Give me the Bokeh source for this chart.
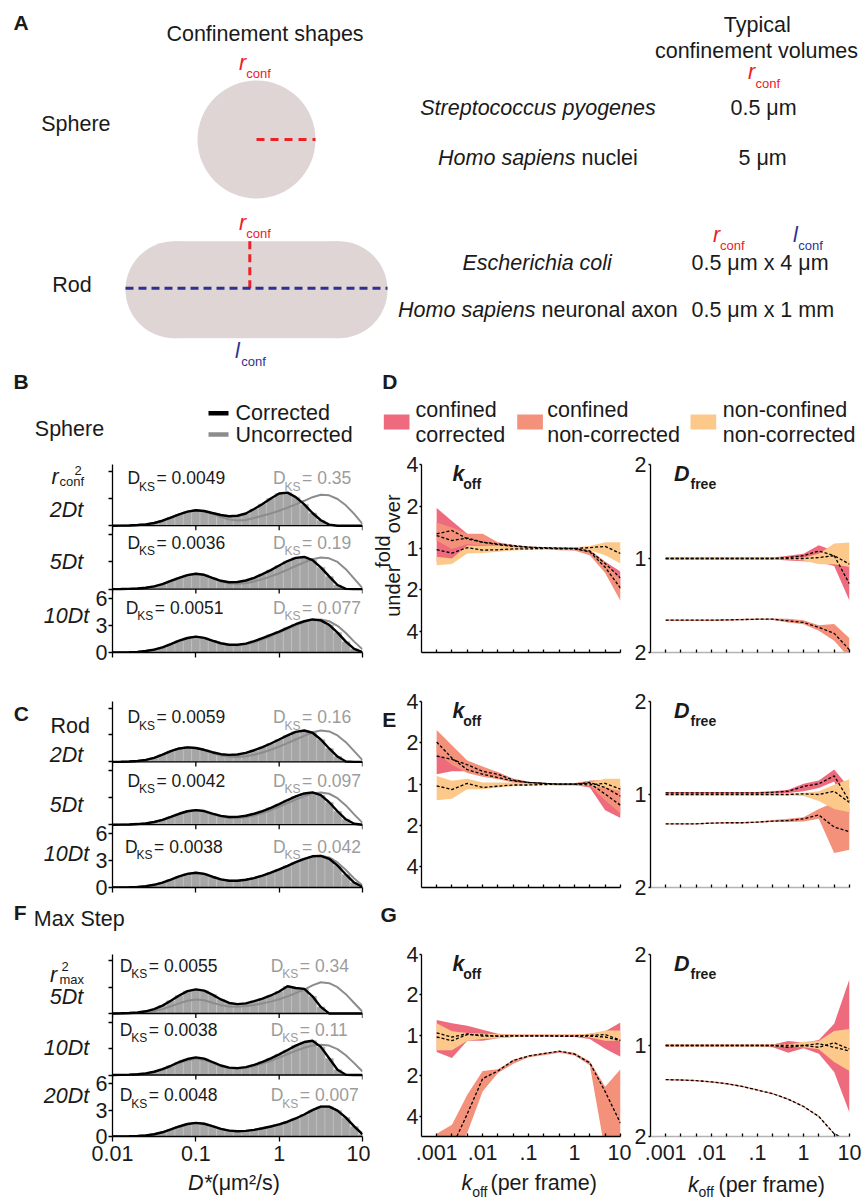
import math
from bokeh.plotting import figure
from bokeh.layouts import column, row
from bokeh.models import Range1d, FixedTicker, Span
from bokeh.core.properties import value
from bokeh.embed import file_html
from bokeh.resources import INLINE

# ============================ DATA ============================
# Panels B, C, F : D* histograms (density), corrected (black) and uncorrected (grey)
D_STAR = [0.01, 0.0126, 0.0158, 0.02, 0.0251, 0.0316, 0.0398, 0.0501, 0.0631, 0.0794,
          0.1, 0.126, 0.158, 0.2, 0.251, 0.316, 0.398, 0.501, 0.631, 0.794,
          1.0, 1.26, 1.58, 2.0, 2.51, 3.16, 3.98, 5.01, 6.31, 7.94,
          10.0]
HIST_X_TICKS = [0.01, 0.1, 1, 10]
HIST_X_LABELS = ["0.01", "0.1", "1", "10"]
HIST_Y_TICKS = [0, 3, 6]

B_2DT_CORR = [0.00, 0.01, 0.03, 0.07, 0.15, 0.30, 0.55, 0.90, 1.25, 1.55,
              1.70, 1.62, 1.40, 1.18, 1.05, 1.10, 1.35, 1.85, 2.40, 3.00,
              3.55, 3.65, 3.15, 2.35, 1.40, 0.60, 0.12, 0.00, 0.00, 0.00,
              0.00]
B_2DT_UNC = [0.00, 0.01, 0.03, 0.07, 0.15, 0.30, 0.55, 0.90, 1.25, 1.55,
             1.70, 1.58, 1.30, 0.95, 0.68, 0.58, 0.64, 0.85, 1.10, 1.35,
             1.65, 2.00, 2.35, 2.75, 3.15, 3.42, 3.35, 2.95, 2.25, 1.30,
             0.20]
B_5DT_CORR = [0.00, 0.01, 0.03, 0.07, 0.15, 0.30, 0.55, 0.90, 1.25, 1.55,
              1.70, 1.58, 1.25, 0.92, 0.76, 0.78, 0.95, 1.25, 1.65, 2.10,
              2.60, 3.10, 3.45, 3.55, 3.20, 2.40, 1.40, 0.45, 0.02, 0.00,
              0.00]
B_5DT_UNC = [0.00, 0.01, 0.03, 0.07, 0.15, 0.30, 0.55, 0.90, 1.25, 1.55,
             1.70, 1.55, 1.20, 0.85, 0.65, 0.58, 0.65, 0.85, 1.10, 1.40,
             1.75, 2.15, 2.55, 2.95, 3.30, 3.48, 3.40, 3.00, 2.20, 1.15,
             0.10]
B_10DT_CORR = [0.00, 0.01, 0.03, 0.07, 0.16, 0.32, 0.57, 0.92, 1.30, 1.60,
               1.75, 1.62, 1.32, 1.02, 0.86, 0.85, 0.98, 1.25, 1.60, 1.95,
               2.30, 2.72, 3.12, 3.45, 3.65, 3.55, 3.05, 2.20, 1.20, 0.40,
               0.03]
B_10DT_UNC = [0.00, 0.01, 0.03, 0.07, 0.16, 0.32, 0.57, 0.92, 1.30, 1.60,
              1.75, 1.60, 1.28, 0.98, 0.82, 0.80, 0.90, 1.12, 1.45, 1.80,
              2.20, 2.60, 3.00, 3.35, 3.60, 3.65, 3.45, 2.95, 2.15, 1.20,
              0.35]
C_2DT_CORR = [0.00, 0.01, 0.04, 0.10, 0.22, 0.45, 0.80, 1.20, 1.50, 1.62,
              1.55, 1.35, 1.08, 0.86, 0.78, 0.82, 1.00, 1.30, 1.65, 2.05,
              2.50, 2.95, 3.35, 3.50, 3.25, 2.50, 1.50, 0.60, 0.05, 0.00,
              0.00]
C_2DT_UNC = [0.00, 0.01, 0.04, 0.10, 0.22, 0.45, 0.80, 1.20, 1.50, 1.62,
             1.55, 1.30, 1.00, 0.72, 0.58, 0.55, 0.62, 0.80, 1.05, 1.35,
             1.70, 2.10, 2.50, 2.90, 3.30, 3.50, 3.40, 2.95, 2.20, 1.20,
             0.20]
C_5DT_CORR = [0.00, 0.01, 0.03, 0.07, 0.15, 0.30, 0.53, 0.87, 1.22, 1.50,
              1.63, 1.52, 1.24, 0.98, 0.86, 0.87, 1.00, 1.22, 1.52, 1.88,
              2.30, 2.75, 3.15, 3.48, 3.60, 3.30, 2.50, 1.50, 0.60, 0.10,
              0.00]
C_5DT_UNC = [0.00, 0.01, 0.03, 0.07, 0.15, 0.30, 0.53, 0.87, 1.22, 1.50,
             1.63, 1.50, 1.18, 0.90, 0.75, 0.72, 0.82, 1.02, 1.30, 1.62,
             2.00, 2.40, 2.80, 3.18, 3.48, 3.60, 3.45, 2.95, 2.15, 1.15,
             0.20]
C_10DT_CORR = [0.00, 0.01, 0.03, 0.07, 0.15, 0.30, 0.54, 0.88, 1.24, 1.52,
               1.65, 1.52, 1.20, 0.90, 0.75, 0.75, 0.86, 1.05, 1.32, 1.65,
               2.02, 2.42, 2.82, 3.20, 3.48, 3.52, 3.20, 2.45, 1.45, 0.55,
               0.05]
C_10DT_UNC = [0.00, 0.01, 0.03, 0.07, 0.15, 0.30, 0.54, 0.88, 1.24, 1.52,
              1.65, 1.52, 1.20, 0.90, 0.75, 0.75, 0.86, 1.05, 1.32, 1.63,
              2.00, 2.38, 2.78, 3.15, 3.45, 3.55, 3.35, 2.80, 1.95, 1.00,
              0.25]
F_5DT_CORR = [0.00, 0.02, 0.05, 0.12, 0.25, 0.50, 0.90, 1.45, 2.05, 2.55,
              2.75, 2.60, 2.15, 1.60, 1.20, 1.07, 1.15, 1.40, 1.70, 2.05,
              2.50, 3.10, 2.90, 2.80, 1.95, 0.75, 0.00, 0.00, 0.00, 0.00,
              0.00]
F_5DT_UNC = [0.00, 0.01, 0.03, 0.07, 0.15, 0.28, 0.50, 0.82, 1.15, 1.45,
             1.60, 1.50, 1.22, 0.95, 0.80, 0.77, 0.85, 0.98, 1.15, 1.35,
             1.62, 1.95, 2.32, 2.72, 3.20, 3.55, 3.45, 3.00, 2.20, 1.20,
             0.20]
F_10DT_CORR = [0.00, 0.01, 0.04, 0.09, 0.19, 0.37, 0.66, 1.05, 1.48, 1.82,
               2.00, 1.86, 1.48, 1.08, 0.84, 0.78, 0.90, 1.15, 1.50, 1.90,
               2.35, 2.85, 3.35, 3.75, 3.90, 3.20, 1.90, 0.60, 0.03, 0.00,
               0.00]
F_10DT_UNC = [0.00, 0.01, 0.04, 0.09, 0.18, 0.35, 0.62, 0.98, 1.38, 1.68,
              1.85, 1.72, 1.38, 1.00, 0.78, 0.72, 0.82, 1.02, 1.30, 1.62,
              1.98, 2.38, 2.75, 3.10, 3.35, 3.45, 3.35, 2.95, 2.25, 1.35,
              0.40]
F_20DT_CORR = [0.00, 0.01, 0.03, 0.06, 0.13, 0.26, 0.48, 0.80, 1.14, 1.42,
               1.55, 1.45, 1.17, 0.87, 0.67, 0.60, 0.64, 0.76, 0.94, 1.14,
               1.38, 1.68, 2.05, 2.50, 3.00, 3.40, 3.40, 2.95, 2.15, 1.15,
               0.25]
F_20DT_UNC = [0.00, 0.01, 0.03, 0.06, 0.13, 0.26, 0.48, 0.80, 1.14, 1.42,
              1.55, 1.45, 1.17, 0.87, 0.67, 0.60, 0.64, 0.76, 0.94, 1.14,
              1.38, 1.68, 2.05, 2.52, 3.02, 3.42, 3.42, 2.98, 2.18, 1.18,
              0.27]

B_ROWS = ["2Dt", "5Dt", "10Dt"]
C_ROWS = ["2Dt", "5Dt", "10Dt"]
F_ROWS = ["5Dt", "10Dt", "20Dt"]
B_DKS_CORR = ["0.0049", "0.0036", "0.0051"]
B_DKS_UNC = ["0.35", "0.19", "0.077"]
C_DKS_CORR = ["0.0059", "0.0042", "0.0038"]
C_DKS_UNC = ["0.16", "0.097", "0.042"]
F_DKS_CORR = ["0.0055", "0.0038", "0.0048"]
F_DKS_UNC = ["0.34", "0.11", "0.007"]

# Panels D, E, G : log2 fold over(+)/under(-) estimation vs k_off
KOFF = [0.001, 0.00215, 0.00464, 0.01, 0.0215, 0.0464, 0.1, 0.215, 0.464, 1, 2.15, 4.64, 10]
KOFF_DECADES = [0.001, 0.01, 0.1, 1, 10]
KOFF_DECADE_LABELS = [".001", ".01", ".1", "1", "10"]
KOFF_FOLD_TICKS = [-2, -1, 0, 1, 2]
KOFF_FOLD_LABELS = ["4", "2", "1", "2", "4"]
DFREE_FOLD_TICKS = [-1, 0, 1]
DFREE_FOLD_LABELS = ["2", "1", "2"]

# sphere (D)
D_KOFF_CC_HI = [0.96, 0.65, 0.34, 0.18, 0.09, 0.04, 0.02, 0.02, 0.01, 0.00, -0.05, -0.33, -0.56]
D_KOFF_CC_MED = [0.34, 0.42, 0.22, 0.14, 0.10, 0.06, 0.02, 0.01, 0.00, -0.01, -0.07, -0.37, -0.72]
D_KOFF_CC_LO = [-0.33, -0.35, -0.09, -0.05, -0.04, -0.02, -0.02, -0.02, -0.04, -0.05, -0.15, -0.53, -1.00]
D_KOFF_CN_HI = [0.61, 0.49, 0.34, 0.34, 0.14, 0.08, 0.04, 0.02, 0.02, 0.01, -0.04, -0.33, -0.76]
D_KOFF_CN_MED = [0.30, 0.18, 0.24, 0.14, 0.08, 0.04, 0.02, 0.00, -0.02, -0.02, -0.09, -0.46, -0.96]
D_KOFF_CN_LO = [0.18, -0.02, 0.10, 0.06, 0.01, -0.02, -0.02, -0.03, -0.05, -0.06, -0.17, -0.60, -1.27]
D_KOFF_NN_HI = [-0.21, -0.25, 0.06, 0.05, 0.05, 0.04, 0.02, 0.02, 0.02, 0.02, 0.05, 0.14, 0.14]
D_KOFF_NN_MED = [-0.04, -0.12, 0.01, -0.05, -0.04, -0.02, -0.02, -0.01, -0.01, -0.01, 0.01, 0.04, -0.13]
D_KOFF_NN_LO = [-0.41, -0.38, -0.13, -0.12, -0.09, -0.06, -0.04, -0.03, -0.03, -0.03, -0.05, -0.17, -0.37]

D_DFREE_CC_HI = [0.01, 0.01, 0.01, 0.01, 0.01, 0.01, 0.01, 0.01, 0.03, 0.05, 0.14, 0.08, -0.02]
D_DFREE_CC_MED = [0.0, 0.0, 0.0, 0.0, 0.0, 0.0, 0.0, 0.0, 0.01, 0.03, 0.08, 0.03, -0.27]
D_DFREE_CC_LO = [-0.01, -0.01, -0.01, -0.01, -0.01, -0.01, -0.01, -0.01, -0.02, -0.03, -0.04, -0.08, -0.45]
D_DFREE_CN_HI = [-0.648, -0.648, -0.648, -0.648, -0.645, -0.642, -0.638, -0.638, -0.640, -0.656, -0.709, -0.698, -0.849]
D_DFREE_CN_MED = [-0.656, -0.656, -0.656, -0.656, -0.653, -0.650, -0.646, -0.646, -0.663, -0.680, -0.733, -0.796, -0.972]
D_DFREE_CN_LO = [-0.664, -0.664, -0.664, -0.664, -0.661, -0.658, -0.654, -0.654, -0.680, -0.700, -0.768, -0.874, -1.060]
D_DFREE_NN_HI = [0.01, 0.01, 0.01, 0.01, 0.01, 0.01, 0.01, 0.01, 0.01, 0.01, 0.05, 0.16, 0.17]
D_DFREE_NN_MED = [0.0, 0.0, 0.0, 0.0, 0.0, 0.0, 0.0, 0.0, 0.0, 0.0, 0.01, 0.03, -0.06]
D_DFREE_NN_LO = [-0.01, -0.01, -0.01, -0.01, -0.01, -0.01, -0.01, -0.01, -0.01, -0.02, -0.06, -0.06, -0.09]

# rod (E)
E_KOFF_CC_HI = [0.98, 0.92, 0.55, 0.39, 0.29, 0.13, 0.06, 0.03, 0.02, 0.02, 0.08, 0.08, -0.04]
E_KOFF_CC_MED = [0.68, 0.60, 0.47, 0.31, 0.24, 0.10, 0.04, 0.02, 0.00, 0.00, 0.04, -0.08, -0.29]
E_KOFF_CC_LO = [0.24, 0.31, 0.31, 0.21, 0.16, 0.04, 0.00, -0.02, -0.02, -0.02, -0.08, -0.63, -0.82]
E_KOFF_CN_HI = [1.31, 0.94, 0.57, 0.43, 0.29, 0.13, 0.06, 0.03, 0.02, 0.02, 0.08, 0.10, -0.08]
E_KOFF_CN_MED = [1.02, 0.63, 0.35, 0.24, 0.16, 0.08, 0.04, 0.02, 0.00, 0.00, 0.02, -0.24, -0.51]
E_KOFF_CN_LO = [0.75, 0.47, 0.27, 0.18, 0.12, 0.04, -0.01, -0.02, -0.03, -0.03, -0.04, -0.39, -0.71]
E_KOFF_NN_HI = [0.20, 0.08, 0.13, 0.04, 0.04, 0.04, 0.02, 0.02, 0.02, 0.02, 0.04, 0.13, 0.13]
E_KOFF_NN_MED = [-0.04, -0.13, 0.02, -0.08, -0.05, -0.02, -0.02, -0.01, 0.00, 0.00, -0.02, 0.02, -0.12]
E_KOFF_NN_LO = [-0.39, -0.35, -0.12, -0.12, -0.08, -0.05, -0.04, -0.02, -0.02, -0.02, -0.04, -0.08, -0.16]

E_DFREE_CC_HI = [0.028, 0.028, 0.028, 0.028, 0.028, 0.028, 0.028, 0.035, 0.052, 0.115, 0.15, 0.27, 0.07]
E_DFREE_CC_MED = [0.017, 0.017, 0.017, 0.017, 0.017, 0.017, 0.017, 0.024, 0.035, 0.087, 0.115, 0.20, -0.07]
E_DFREE_CC_LO = [0.0, 0.0, 0.0, 0.0, 0.0, 0.0, 0.0, 0.007, 0.017, 0.035, 0.07, 0.14, -0.21]
E_DFREE_CN_HI = [-0.308, -0.308, -0.308, -0.300, -0.297, -0.297, -0.290, -0.273, -0.262, -0.245, -0.157, -0.087, -0.157]
E_DFREE_CN_MED = [-0.315, -0.315, -0.315, -0.308, -0.304, -0.304, -0.297, -0.287, -0.280, -0.262, -0.220, -0.350, -0.400]
E_DFREE_CN_LO = [-0.322, -0.322, -0.322, -0.315, -0.311, -0.311, -0.304, -0.297, -0.297, -0.290, -0.262, -0.630, -0.594]
E_DFREE_NN_HI = [0.01, 0.01, 0.01, 0.01, 0.01, 0.01, 0.01, 0.01, 0.01, 0.017, 0.035, 0.105, 0.165]
E_DFREE_NN_MED = [0.0, 0.0, 0.0, 0.0, 0.0, 0.0, 0.0, 0.0, 0.0, 0.007, 0.0, 0.035, -0.087]
E_DFREE_NN_LO = [-0.01, -0.01, -0.01, -0.01, -0.01, -0.01, -0.01, -0.01, -0.01, -0.017, -0.07, -0.157, -0.192]

# max step (G)
G_KOFF_CC_HI = [0.38, 0.30, 0.24, 0.14, 0.04, 0.02, 0.02, 0.02, 0.02, 0.02, 0.04, 0.10, 0.32]
G_KOFF_CC_MED = [-0.04, -0.13, 0.02, 0.01, -0.02, -0.01, -0.01, -0.01, -0.02, -0.02, -0.02, -0.04, -0.13]
G_KOFF_CC_LO = [-0.41, -0.56, -0.13, -0.13, -0.07, -0.04, -0.03, -0.03, -0.03, -0.04, -0.09, -0.33, -0.53]
G_KOFF_CN_HI = [-2.43, -2.21, -1.47, -0.88, -0.84, -0.60, -0.49, -0.43, -0.38, -0.43, -0.64, -1.27, -0.84]
G_KOFF_CN_MED = [-3.19, -2.76, -1.94, -1.07, -0.88, -0.62, -0.51, -0.45, -0.39, -0.46, -0.68, -1.39, -2.17]
G_KOFF_CN_LO = [-3.20, -3.04, -2.41, -1.39, -0.93, -0.70, -0.54, -0.49, -0.43, -0.50, -0.74, -2.88, -3.04]
G_KOFF_NN_HI = [0.30, 0.10, 0.06, 0.04, 0.03, 0.02, 0.02, 0.02, 0.02, 0.02, 0.04, 0.12, 0.12]
G_KOFF_NN_MED = [0.06, -0.04, 0.04, -0.02, -0.02, -0.01, -0.01, -0.01, -0.01, -0.01, 0.00, 0.02, -0.12]
G_KOFF_NN_LO = [-0.37, -0.37, -0.13, -0.09, -0.07, -0.04, -0.02, -0.02, -0.02, -0.02, -0.05, -0.13, -0.13]

G_DFREE_CC_HI = [0.01, 0.01, 0.01, 0.01, 0.01, 0.01, 0.01, 0.01, 0.05, 0.03, 0.06, 0.24, 0.73]
G_DFREE_CC_MED = [0.0, 0.0, 0.0, 0.0, 0.0, 0.0, 0.0, 0.0, -0.02, 0.0, -0.02, 0.03, -0.04]
G_DFREE_CC_LO = [-0.01, -0.01, -0.01, -0.01, -0.01, -0.01, -0.01, -0.02, -0.08, -0.03, -0.09, -0.29, -0.74]
G_DFREE_CN_HI = [-0.367, -0.371, -0.378, -0.392, -0.412, -0.442, -0.482, -0.522, -0.582, -0.662, -0.772, -0.962, -1.042]
G_DFREE_CN_MED = [-0.375, -0.379, -0.386, -0.400, -0.420, -0.450, -0.490, -0.530, -0.590, -0.670, -0.780, -0.970, -1.050]
G_DFREE_CN_LO = [-0.383, -0.387, -0.394, -0.408, -0.428, -0.458, -0.498, -0.538, -0.598, -0.678, -0.788, -0.978, -1.058]
G_DFREE_NN_HI = [0.01, 0.01, 0.01, 0.01, 0.01, 0.01, 0.01, 0.01, 0.01, 0.04, 0.05, 0.16, 0.18]
G_DFREE_NN_MED = [0.0, 0.0, 0.0, 0.0, 0.0, 0.0, 0.0, 0.0, 0.0, 0.0, 0.02, -0.02, -0.06]
G_DFREE_NN_LO = [-0.01, -0.01, -0.01, -0.01, -0.01, -0.01, -0.01, -0.01, -0.01, -0.02, -0.04, -0.18, -0.28]

# ============================ STYLE ============================
FONT = "Liberation Sans"
FS = 21.5
DKS_FS = 17.5
INK = "#1a1a1a"
PINK = "#EE6B7E"
SALMON = "#F3917B"
ORANGE = "#FCC98B"
GREY_LINE = "#8c8c8c"
GREY_TXT = "#9c9c9c"
BAR = "#a6a6a6"
BAR_EDGE = "#c2c2c2"
SHAPE = "#DFD5D5"
RED = "#EB2128"
BLUE = "#2E3192"
KOFF_START = 0.001 / 10 ** 0.33


def put(p, x, y, s, size=FS, color=INK, style="normal", align="left",
        baseline="alphabetic", angle=0.0, xo=0.0, yo=0.0, **kw):
    # y is the text baseline; it is drawn with a "middle" anchor lifted by the em-box half height
    if baseline == "alphabetic":
        yo = yo - 0.3465 * size
        baseline = "middle"
    p.text(x=[x], y=[y], text=[s], text_font=value(FONT),
           text_font_size=value(f"{size}px"), text_font_style=style,
           text_color=color, text_align=align, text_baseline=baseline,
           angle=angle, x_offset=xo, y_offset=yo, **kw)


def canvas(x0, x1, y0, y1):
    p = figure(width=int(round(x1 - x0)), height=int(round(y1 - y0)),
               x_range=Range1d(x0, x1), y_range=Range1d(y1, y0),
               x_axis_location=None, y_axis_location=None,
               min_border=0, min_border_left=0, min_border_right=0,
               min_border_top=0, min_border_bottom=0,
               output_backend="svg", toolbar_location=None)
    p.grid.visible = False
    p.outline_line_color = None
    return p


def style_axis(ax, show_labels, tick_in, tick_out, standoff):
    ax.axis_line_color = "black"
    ax.axis_line_width = 1.3
    for kind in ("major", "minor"):
        setattr(ax, f"{kind}_tick_line_color", "black")
        setattr(ax, f"{kind}_tick_line_width", 1.3)
        setattr(ax, f"{kind}_tick_in", tick_in)
        setattr(ax, f"{kind}_tick_out", tick_out)
    ax.major_label_text_font = FONT
    ax.major_label_text_font_size = f"{FS}px"
    ax.major_label_text_color = INK
    ax.major_label_standoff = standoff if show_labels else 0


def hist_fig(height, top, bottom, pp, series, dks_c, dks_u, txt_up, dx_c, dx_u, show_labels):
    frame_h = height - top - bottom
    unit = 7.0 / pp
    total = frame_h * unit
    p = figure(width=280, height=height, x_axis_type="log",
               x_range=Range1d(0.01, 10), y_range=Range1d(0, total),
               min_border_left=22, min_border_right=8,
               min_border_top=top, min_border_bottom=bottom,
               output_backend="svg", toolbar_location=None)
    p.grid.visible = False
    p.outline_line_color = None
    p.extra_y_ranges = {f"h{i}": Range1d(-7.0 * (2 - i), total - 7.0 * (2 - i)) for i in range(3)}
    left = [d / 10 ** 0.05 for d in D_STAR]
    right = [d * 10 ** 0.05 for d in D_STAR]
    for i, (corr, unc) in enumerate(series):
        rn = f"h{i}"
        p.quad(left=left, right=right, bottom=0, top=corr, y_range_name=rn,
               fill_color=BAR, line_color=BAR_EDGE, line_width=0.6)
        p.line(D_STAR, unc, y_range_name=rn, line_color=GREY_LINE, line_width=2.0)
        p.line(D_STAR, corr, y_range_name=rn, line_color="black", line_width=2.4)
        ax0 = 0.01 * 1.0002
        ay0 = 1e-6
        up = -txt_up[i]
        for dx, val, col in ((dx_c[i], dks_c[i], INK), (dx_u, dks_u[i], GREY_TXT)):
            put(p, ax0, ay0, "D", size=DKS_FS, color=col, xo=dx, yo=up, y_range_name=rn)
            put(p, ax0, ay0, "KS", size=12, color=col, xo=dx + 11.5, yo=up + 6.5, y_range_name=rn)
            put(p, ax0, ay0, "= " + val, size=DKS_FS, color=col, xo=dx + 29.0, yo=up, y_range_name=rn)
    for base in (7.0, 14.0):
        p.add_layout(Span(location=base, dimension="width", line_color="black", line_width=1.3))
    p.segment(x0=HIST_X_TICKS * 2, x1=HIST_X_TICKS * 2,
              y0=[7.0] * 4 + [14.0] * 4,
              y1=[7.0 - 4.5 * unit] * 4 + [14.0 - 4.5 * unit] * 4,
              line_color="black", line_width=1.3)
    xa = p.xaxis[0]
    if show_labels:
        xa.ticker = FixedTicker(ticks=HIST_X_TICKS)
        xa.major_label_overrides = dict(zip(HIST_X_TICKS, HIST_X_LABELS))
    else:
        xa.ticker = FixedTicker(ticks=[], minor_ticks=HIST_X_TICKS)
    style_axis(xa, show_labels, 0, 5, 4)
    ya = p.yaxis[0]
    extra = [t + 7 * k for k in (1, 2) for t in HIST_Y_TICKS]
    ya.ticker = FixedTicker(ticks=HIST_Y_TICKS, minor_ticks=extra)
    ya.major_label_overrides = {t: str(t) for t in HIST_Y_TICKS}
    style_axis(ya, True, 0, 4, 1)
    return p


def fold_fig(width, height, left, right, top, bottom, yr, yticks, ylabels,
             bands, show_x, xaxis_color, title, sub, t_dx, s_dx, y_standoff):
    p = figure(width=width, height=height, x_axis_type="log",
               x_range=Range1d(KOFF_START, 10), y_range=Range1d(*yr),
               min_border_left=left, min_border_right=right,
               min_border_top=top, min_border_bottom=bottom,
               output_backend="svg", toolbar_location=None)
    p.grid.visible = False
    p.outline_line_color = None
    for lo, med, hi, col in bands:
        p.varea(x=KOFF, y1=lo, y2=hi, fill_color=col)
    for lo, med, hi, col in bands:
        p.line(x=KOFF, y=med, line_color="black", line_width=1.3, line_dash="3 2")
    ax0 = KOFF_START * 1.0002
    ay0 = yr[1] - 1e-6
    put(p, ax0, ay0, title, style="bold italic", xo=t_dx, yo=17.3)
    put(p, ax0, ay0, sub, size=14, style="bold", xo=s_dx, yo=24.0)
    xa = p.xaxis[0]
    if show_x:
        xa.ticker = FixedTicker(ticks=KOFF_DECADES,
                                minor_ticks=[k for k in KOFF if k not in KOFF_DECADES])
        xa.major_label_overrides = dict(zip(KOFF_DECADES, KOFF_DECADE_LABELS))
    else:
        xa.ticker = FixedTicker(ticks=[], minor_ticks=KOFF)
    style_axis(xa, show_x, 3, 0, 8)
    xa.axis_line_color = xaxis_color
    ya = p.yaxis[0]
    ya.ticker = FixedTicker(ticks=yticks)
    ya.major_label_overrides = dict(zip(yticks, ylabels))
    style_axis(ya, True, 0, 2, y_standoff)
    return p


def koff_fig(height, top, bottom, bands, show_x):
    return fold_fig(228, height, 15, 11, top, bottom, (-2.5, 2.0),
                    KOFF_FOLD_TICKS, KOFF_FOLD_LABELS, bands, show_x, "black",
                    "k", "off", 31.0, 41.7, 1)


def dfree_fig(height, top, bottom, bands, show_x):
    return fold_fig(231, height, 16, 13, top, bottom, (-1.0, 1.0),
                    DFREE_FOLD_TICKS, DFREE_FOLD_LABELS, bands, show_x, "#b4b4b4",
                    "D", "free", 23.5, 40.0, 2)


def sub_label(p, x, y, main, sub, color, sub_dx, sub_dy=7.3, sub_size=13):
    put(p, x, y, main, color=color, style="italic")
    put(p, x + sub_dx, y + sub_dy, sub, size=sub_size, color=color)


# ============================ PANEL A ============================
pa = canvas(0, 862, 0, 368)
put(pa, 13, 29.3, "A", size=21, style="bold")
put(pa, 264.5, 40.5, "Confinement shapes", align="center")
put(pa, 40.7, 130.7, "Sphere")
put(pa, 51.7, 291.7, "Rod")
pa.circle(x=[256], y=[139], radius=59, fill_color=SHAPE, line_color=None)
pa.quad(left=[173.5], right=[338.5], top=[240.7], bottom=[337.7], fill_color=SHAPE, line_color=None)
pa.circle(x=[173.5, 338.5], y=[289.2, 289.2], radius=48.5, fill_color=SHAPE, line_color=None)
pa.segment(x0=[256], y0=[139], x1=[315], y1=[139], line_color=RED, line_width=3, line_dash="8 6")
pa.segment(x0=[249.3], y0=[240.7], x1=[249.3], y1=[287.7], line_color=RED, line_width=3, line_dash="8 5")
pa.segment(x0=[125], y0=[287.7], x1=[387], y1=[287.7], line_color=BLUE, line_width=3, line_dash="8 5")

sub_label(pa, 238.5, 70, "r", "conf", RED, 7.2)
sub_label(pa, 238.5, 230, "r", "conf", RED, 7.2)
sub_label(pa, 234.5, 358.3, "l", "conf", BLUE, 6.2)
put(pa, 756.7, 31.7, "Typical", align="center")
put(pa, 756, 58.3, "confinement volumes", align="center")
sub_label(pa, 747.5, 79.3, "r", "conf", RED, 7.5, 8.0)
put(pa, 537.5, 115, "Streptococcus pyogenes", style="italic", align="center")
put(pa, 730, 115, "0.5 μm")
put(pa, 575, 165, "Homo sapiens", style="italic", align="right")
put(pa, 581, 165, "nuclei")
put(pa, 738, 165, "5 μm")
sub_label(pa, 712.5, 241.7, "r", "conf", RED, 7.0, 7.6)
sub_label(pa, 792.5, 241.7, "l", "conf", BLUE, 5.2, 7.6)
put(pa, 536.7, 270, "Escherichia coli", style="italic", align="center")
put(pa, 691, 270, "0.5 μm x 4 μm")
put(pa, 535, 316.7, "Homo sapiens", style="italic", align="right")
put(pa, 541, 316.7, "neuronal axon")
put(pa, 691, 316.7, "0.5 μm x 1 mm")

# ============================ HEADER B / D ============================
h1 = canvas(0, 862, 368, 447)
put(h1, 13, 388.3, "B", size=21, style="bold")
put(h1, 381.7, 388.3, "D", size=21, style="bold")
put(h1, 34.3, 435.7, "Sphere")
h1.segment(x0=[208], y0=[412.7], x1=[228], y1=[412.7], line_color="black", line_width=4.5)
h1.segment(x0=[208], y0=[434], x1=[228], y1=[434], line_color=GREY_LINE, line_width=4.5)
put(h1, 235, 420, "Corrected")
put(h1, 235, 441.7, "Uncorrected")
for (bx, tx, col, l1, l2) in ((383.3, 415, PINK, "confined", "corrected"),
                              (516.7, 546.7, SALMON, "confined", "non-corrected"),
                              (690, 722.3, ORANGE, "non-confined", "non-corrected")):
    h1.quad(left=[bx], right=[bx + 25.7], top=[414], bottom=[429], fill_color=col, line_color=None)
    put(h1, tx, 416.5, l1)
    put(h1, tx, 442.3, l2)

# ============================ ROW 1 (B / D) ============================
labB = canvas(0, 90, 447, 664)
sub_label(labB, 51, 470, "r", "conf", INK, 8.0, 2.0)
put(labB, 74, 459, "2", size=13)
for name, yb in zip(B_ROWS, (508.3, 568.3, 630)):
    put(labB, 66, yb, name, style="italic", align="center")

histB = hist_fig(217, 17, 12, 63.4,
                 [(B_2DT_CORR, B_2DT_UNC), (B_5DT_CORR, B_5DT_UNC), (B_10DT_CORR, B_10DT_UNC)],
                 B_DKS_CORR, B_DKS_UNC, (41.3, 40.2, 38.6), (15, 15, 13.3), 160.6, False)

let1 = canvas(370, 403, 447, 664)
put(let1, 382, 547.5, "fold", size=20, align="center", baseline="middle", angle=math.pi / 2)
put(let1, 392, 504, "over", size=20, align="center", baseline="middle", angle=math.pi / 2)
put(let1, 392, 593.3, "under", size=20, align="center", baseline="middle", angle=math.pi / 2)

koffD = koff_fig(217, 16, 10,
                 [(D_KOFF_CC_LO, D_KOFF_CC_MED, D_KOFF_CC_HI, PINK),
                  (D_KOFF_CN_LO, D_KOFF_CN_MED, D_KOFF_CN_HI, SALMON),
                  (D_KOFF_NN_LO, D_KOFF_NN_MED, D_KOFF_NN_HI, ORANGE)], False)
dfreeD = dfree_fig(217, 16, 11,
                   [(D_DFREE_CC_LO, D_DFREE_CC_MED, D_DFREE_CC_HI, PINK),
                    (D_DFREE_CN_LO, D_DFREE_CN_MED, D_DFREE_CN_HI, SALMON),
                    (D_DFREE_NN_LO, D_DFREE_NN_MED, D_DFREE_NN_HI, ORANGE)], False)

# ============================ ROW 2 (C / E) ============================
labC = canvas(0, 90, 664, 900)
put(labC, 13.3, 688.3, "C", size=21, style="bold")
put(labC, 50, 704, "Rod")
for name, yb in zip(C_ROWS, (741.7, 805, 867.3)):
    put(labC, 66, yb, name, style="italic", align="center")

histC = hist_fig(236, 37, 13, 62.8,
                 [(C_2DT_CORR, C_2DT_UNC), (C_5DT_CORR, C_5DT_UNC), (C_10DT_CORR, C_10DT_UNC)],
                 C_DKS_CORR, C_DKS_UNC, (38.6, 37.6, 34.9), (15, 15, 12.6), 160.6, False)

let2 = canvas(370, 403, 664, 900)
put(let2, 381.7, 696.7, "E", size=21, style="bold")

koffE = koff_fig(236, 33, 12,
                 [(E_KOFF_CC_LO, E_KOFF_CC_MED, E_KOFF_CC_HI, PINK),
                  (E_KOFF_CN_LO, E_KOFF_CN_MED, E_KOFF_CN_HI, SALMON),
                  (E_KOFF_NN_LO, E_KOFF_NN_MED, E_KOFF_NN_HI, ORANGE)], False)
dfreeE = dfree_fig(236, 33, 13,
                   [(E_DFREE_CC_LO, E_DFREE_CC_MED, E_DFREE_CC_HI, PINK),
                    (E_DFREE_CN_LO, E_DFREE_CN_MED, E_DFREE_CN_HI, SALMON),
                    (E_DFREE_NN_LO, E_DFREE_NN_MED, E_DFREE_NN_HI, ORANGE)], False)

# ============================ HEADER F / G ============================
h3 = canvas(0, 862, 900, 931)
put(h3, 13.3, 919.3, "F", size=21, style="bold")
put(h3, 33.3, 926.2, "Max Step")
put(h3, 380, 921.7, "G", size=21, style="bold")

# ============================ ROW 3 (F / G) ============================
labF = canvas(0, 90, 931, 1170)
sub_label(labF, 49.5, 968.3, "r", "max", INK, 9.5, 1.7)
put(labF, 61, 953.3, "2", size=13)
for name, yb in zip(F_ROWS, (996.7, 1063.3, 1126.7)):
    put(labF, 66, yb, name, style="italic", align="center")

histF = hist_fig(239, 23, 34, 61.5,
                 [(F_5DT_CORR, F_5DT_UNC), (F_10DT_CORR, F_10DT_UNC), (F_20DT_CORR, F_20DT_UNC)],
                 F_DKS_CORR, F_DKS_UNC, (41.9, 39.3, 35.3), (7.3, 7.3, 7.3), 158.3, True)

let3 = canvas(370, 403, 931, 1170)

koffG = koff_fig(239, 15, 34,
                 [(G_KOFF_CC_LO, G_KOFF_CC_MED, G_KOFF_CC_HI, PINK),
                  (G_KOFF_CN_LO, G_KOFF_CN_MED, G_KOFF_CN_HI, SALMON),
                  (G_KOFF_NN_LO, G_KOFF_NN_MED, G_KOFF_NN_HI, ORANGE)], True)
dfreeG = dfree_fig(239, 18, 34,
                   [(G_DFREE_CC_LO, G_DFREE_CC_MED, G_DFREE_CC_HI, PINK),
                    (G_DFREE_CN_LO, G_DFREE_CN_MED, G_DFREE_CN_HI, SALMON),
                    (G_DFREE_NN_LO, G_DFREE_NN_MED, G_DFREE_NN_HI, ORANGE)], True)

# ============================ FOOTER (axis titles) ============================
foot = canvas(0, 862, 1170, 1199)
put(foot, 187.5, 1189.8, "D*", style="italic")
put(foot, 211, 1189.8, "(μm²/s)")
put(foot, 461, 1189.8, "k", style="italic")
put(foot, 471.7, 1196, "off", size=14)
put(foot, 490, 1189.8, "(per frame)")
put(foot, 687.5, 1191.5, "k", style="italic")
put(foot, 698, 1196, "off", size=14)
put(foot, 718, 1191.5, "(per frame)")

layout = column(
    pa, h1,
    row(labB, histB, let1, koffD, dfreeD),
    row(labC, histC, let2, koffE, dfreeE),
    h3,
    row(labF, histF, let3, koffG, dfreeG),
    foot,
)

open("out.html", "w").write(file_html(layout, INLINE))
